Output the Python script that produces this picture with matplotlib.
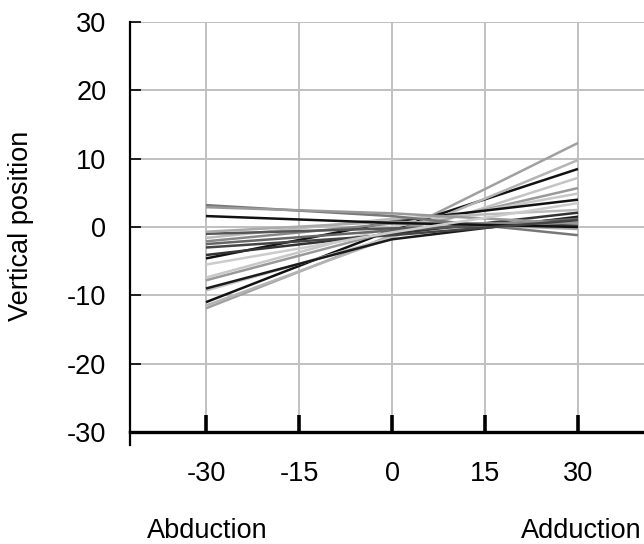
import matplotlib
matplotlib.use("Agg")
import matplotlib.pyplot as plt

plt.rcParams['font.family'] = ['Liberation Sans', 'DejaVu Sans']

# Data
x_positions = [-30, 0, 30]
x_ticks = [-30, -15, 0, 15, 30]
y_ticks = [-30, -20, -10, 0, 10, 20, 30]

series_left = [-11.9, -11.0, -11.5, -9.3, -9.0, -7.8, -7.4, -4.6, -4.1, -2.5,
               -2.1, -1.6, -1.0, -0.7, 3.2, 2.9, 1.6, -3.0, -5.5]
series_mid = [-1.2, -0.4, -1.5, -1.5, -1.8, -0.6, 0.0, 0.8, -1.0, -0.5,
              0.5, 1.2, -0.2, 0.8, 1.6, 2.0, 0.6, -1.2, -0.8]
series_right = [12.3, 8.5, 9.8, 7.2, 1.5, 5.7, 4.9, 4.0, 2.1, 1.2,
                0.6, 2.5, 0.3, -0.3, -1.2, 0.5, 0.0, 1.0, 3.5]
series_colors = ['#a0a0a0', '#111111', '#b4b4b4', '#c4c4c4', '#1a1a1a', '#999999',
                 '#c8c8c8', '#111111', '#333333', '#666666', '#888888', '#bbbbbb',
                 '#555555', '#aaaaaa', '#777777', '#999999', '#111111', '#444444',
                 '#cccccc']

fig = plt.figure(figsize=(6.44, 5.44), dpi=100)
W, H = 644, 544
left_px, top_px, bottom_px = 130, 22, 432
ax = fig.add_axes([left_px / W, 1 - bottom_px / H, 1 - left_px / W, (bottom_px - top_px) / H])

# x scale: -30 at px 206, 30 at px 578
px_per_unit = (578 - 206) / 60.0
xmin = -30 - (206 - left_px) / px_per_unit
xmax = 30 + (W - 578) / px_per_unit
ax.set_xlim(xmin, xmax)
ax.set_ylim(-30, 30)

for yl, ym, yr, c in zip(series_left, series_mid, series_right, series_colors):
    ax.plot(x_positions, [yl, ym, yr], color=c, lw=1.8, solid_capstyle='butt', zorder=3)

ax.set_xticks(x_ticks)
ax.set_yticks(y_ticks)
ax.set_xticklabels([str(v) for v in x_ticks])
ax.set_yticklabels([str(v) for v in y_ticks])
ax.grid(True, color='#c0c0c0', lw=1.4, zorder=0)
ax.set_axisbelow(True)

for s in ['top', 'right']:
    ax.spines[s].set_visible(False)
ax.spines['left'].set_linewidth(1.6)
ax.spines['bottom'].set_linewidth(2.4)
ax.spines['left'].set_zorder(5)
ax.spines['bottom'].set_zorder(5)

ax.tick_params(axis='x', direction='in', length=12, width=2.6, pad=21,
               labelsize=19.5, colors='black')
ax.tick_params(axis='y', direction='in', length=8, width=1.2, pad=17,
               labelsize=19.5, colors='black')

# small extension of left spine below the x axis
ax.plot([0, 0], [0, -13 / (bottom_px - top_px)], transform=ax.transAxes,
        color='black', lw=1.6, clip_on=False, zorder=6)

fig.text(21 / W, 1 - 226 / H, 'Vertical position', rotation=90,
         ha='center', va='center', fontsize=19.5)
fig.text(207 / W, 1 - 531 / H, 'Abduction', ha='center', va='center', fontsize=19.5)
fig.text(521 / W, 1 - 531 / H, 'Adduction', ha='left', va='center', fontsize=19.5)

fig.savefig('out.png', dpi=100)
